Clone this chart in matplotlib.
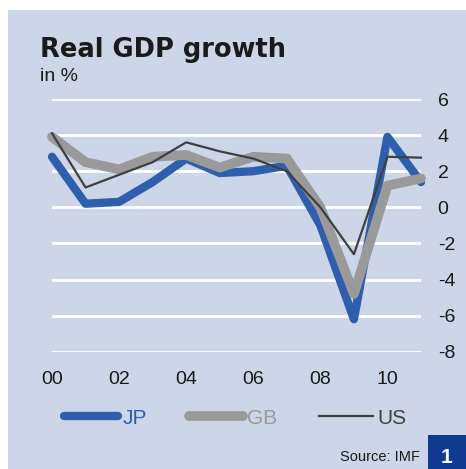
import matplotlib
matplotlib.use("Agg")
import matplotlib.pyplot as plt
from matplotlib.patches import Rectangle

plt.rcParams['font.family'] = ['Liberation Sans', 'DejaVu Sans']
plt.rcParams['axes.unicode_minus'] = False

# Daten
years = list(range(2000, 2012))
jp = [2.8, 0.2, 0.3, 1.4, 2.7, 1.9, 2.0, 2.3, -1.0, -6.2, 3.9, 1.4]
gb = [3.9, 2.5, 2.1, 2.8, 2.9, 2.2, 2.8, 2.7, 0.0, -4.8, 1.2, 1.6]
us = [4.1, 1.1, 1.8, 2.5, 3.6, 3.1, 2.7, 2.0, 0.0, -2.6, 2.8, 2.75]
xticks = [2000, 2002, 2004, 2006, 2008, 2010]
xlabels = ["00", "02", "04", "06", "08", "10"]
yticks = [-8, -6, -4, -2, 0, 2, 4, 6]

bg = "#CCD6E8"
blue = "#2F5FAC"
grey = "#9A9A9A"
dark = "#404040"

W, H = 466, 469
fig = plt.figure(figsize=(W / 100, H / 100), dpi=100)
fig.patch.set_facecolor("white")
fig.patches.append(Rectangle((8 / W, 0), 1, 1 - 10 / H, transform=fig.transFigure,
                             facecolor=bg, edgecolor="none", zorder=-5))

ax = fig.add_axes([52 / W, (H - 351.7) / H, 369 / W, 252.7 / H])
ax.set_facecolor("none")
for s in ax.spines.values():
    s.set_visible(False)

ax.set_xlim(2000, 2011)
ax.set_ylim(-8, 6)
ax.set_yticks(yticks)
ax.set_xticks(xticks)
ax.set_xticklabels(xlabels)
ax.yaxis.tick_right()
ax.tick_params(axis="y", length=0, pad=12, labelsize=14, labelcolor="#1a1a1a")
ax.tick_params(axis="x", length=0, pad=14, labelsize=14, labelcolor="#1a1a1a")
ax.grid(axis="y", color="white", linewidth=2)
ax.set_axisbelow(True)

ax.plot(years, jp, color=blue, linewidth=6, label="JP", clip_on=False,
        solid_capstyle="round", solid_joinstyle="round")
ax.plot(years, gb, color=grey, linewidth=7, label="GB", clip_on=False,
        solid_capstyle="round", solid_joinstyle="round")
ax.plot(years, us, color=dark, linewidth=1.6, label="US", clip_on=False)

leg = ax.legend(loc="center", bbox_to_anchor=(0.505, (H - 418) / H), bbox_transform=fig.transFigure,
                ncol=3, frameon=False, fontsize=15, handlelength=2.6, handletextpad=0.2,
                columnspacing=2.0, labelcolor="linecolor")

fig.text(40 / W, 1 - 57 / H, "Real GDP growth", fontsize=18.5, fontweight="bold",
         family="DejaVu Sans", color="#1a1a1a", va="baseline")
fig.text(40 / W, 1 - 81 / H, "in %", fontsize=14, color="#1a1a1a", va="baseline")
fig.text(420 / W, 1 - 461 / H, "Source: IMF", fontsize=10.5, color="#1a1a1a",
         ha="right", va="baseline")
fig.patches.append(Rectangle((428 / W, 0), 1, 34 / H, transform=fig.transFigure,
                             facecolor="#0F3A8F", edgecolor="none", zorder=1))
fig.text(447 / W, 1 - 463 / H, "1", fontsize=15, fontweight="bold", color="white",
         ha="center", va="baseline", zorder=2)

fig.savefig("out.png", dpi=100)
